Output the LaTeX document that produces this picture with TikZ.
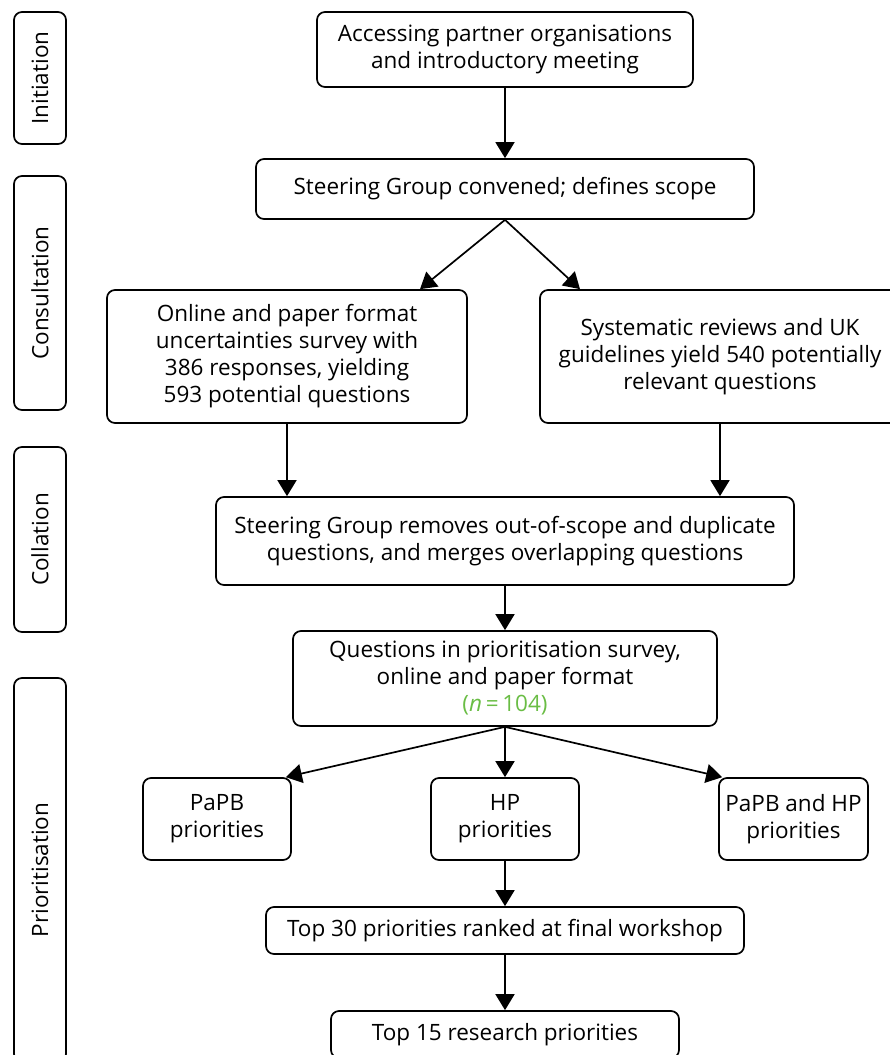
\documentclass[tikz,border=0pt]{standalone}
\usepackage{fontspec}
\setmainfont{Open Sans}
\usetikzlibrary{arrows.meta,calc}
\definecolor{ngreen}{RGB}{106,189,69}
\begin{document}
\begin{tikzpicture}[x=1pt,y=-1pt,
  box/.style={draw,rounded corners=8pt,line width=1.7pt,align=center,
    font=\fontsize{22.5}{27}\selectfont,inner sep=0pt},
  phase/.style={draw,rounded corners=8pt,line width=1.7pt,minimum height=52pt,
    font=\fontsize{22.5}{27}\selectfont,rotate=90,inner sep=0pt},
  arr/.style={line width=1.7pt,-{Triangle[length=16pt,width=19pt]}}]
\useasboundingbox (0,0) rectangle (890,1055);
\clip (0,0) rectangle (890,1055);

% phase labels down the left side
\node[phase,minimum width=132pt] (pinit) at (40,78) {Initiation};
\node[phase,minimum width=234pt] (pcons) at (40,293) {Consultation};
\node[phase,minimum width=185pt] (pcoll) at (40,539.5) {Collation};
\node[phase,minimum width=384pt] (pprio) at (40,870) {Prioritisation};

% process steps
\node[box,minimum width=376pt,minimum height=75pt] (acc) at (505,49.5)
  {Accessing partner organisations\\and introductory meeting};
\node[box,minimum width=498pt,minimum height=60pt] (steer) at (505,189)
  {Steering Group convened; defines scope};
\node[box,minimum width=360pt,minimum height=133pt] (online) at (287,356.5)
  {Online and paper format\\uncertainties survey with\\386 responses, yielding\\593 potential questions};
\node[box,minimum width=360pt,minimum height=133pt] (syst) at (720,356.5)
  {Systematic reviews and UK\\guidelines yield 540 potentially\\relevant questions};
\node[box,minimum width=578pt,minimum height=88pt] (merge) at (505,541)
  {Steering Group removes out-of-scope and duplicate\\questions, and merges overlapping questions};
\node[box,minimum width=424pt,minimum height=95pt] (quest) at (505,678.5)
  {Questions in prioritisation survey,\\online and paper format\\{\color{ngreen}(\textit{n}\,=\,104)}};
\node[box,minimum width=148pt,minimum height=82pt] (papb) at (217,819)
  {PaPB\\priorities};
\node[box,minimum width=148pt,minimum height=82pt] (hp) at (505,819)
  {HP\\priorities};
\node[box,minimum width=149pt,minimum height=82pt] (both) at (793.5,819)
  {PaPB and HP\\priorities};
\node[box,minimum width=478pt,minimum height=47pt] (top30) at (505,930.5)
  {Top 30 priorities ranked at final workshop};
\node[box,minimum width=348pt,minimum height=47pt] (top15) at (505,1034.5)
  {Top 15 research priorities};

% connectors
\draw[arr] (acc.south) -- (steer.north);
\draw[arr] (steer.south) -- ([xshift=133pt]online.north);
\draw[arr] (steer.south) -- ([xshift=-140pt]syst.north);
\draw[arr] (online.south) -- (online.south |- merge.north);
\draw[arr] (syst.south) -- (syst.south |- merge.north);
\draw[arr] (merge.south) -- (quest.north);
\draw[arr] (quest.south) -- ([xshift=-6pt]papb.north east);
\draw[arr] (quest.south) -- (hp.north);
\draw[arr] (quest.south) -- ([xshift=4pt]both.north west);
\draw[arr] (hp.south) -- (top30.north);
\draw[arr] (top30.south) -- (top15.north);
\end{tikzpicture}
\end{document}
